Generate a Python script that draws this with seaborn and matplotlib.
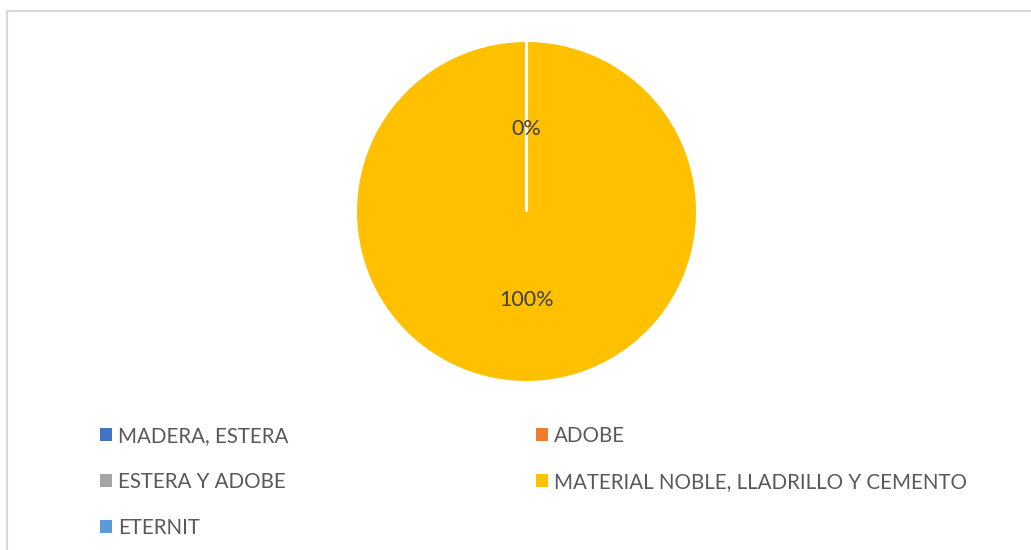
import matplotlib
matplotlib.use("Agg")
import matplotlib.pyplot as plt
from matplotlib.patches import Rectangle, Patch
import seaborn as sns

categories = ["MADERA, ESTERA", "ADOBE", "ESTERA Y ADOBE",
              "MATERIAL NOBLE, LLADRILLO Y CEMENTO", "ETERNIT"]
shares = [0, 0, 0, 100, 0]
colors = ["#4472C4", "#ED7D31", "#A5A5A5", "#FFC000", "#5B9BD5"]

sns.set_theme(style="white")
plt.rcParams["font.family"] = ["Lato", "DejaVu Sans"]

W, H = 1031, 550
fig = plt.figure(figsize=(W / 100, H / 100), dpi=100)

# chart area frame (left and top edges visible)
fig.add_artist(Rectangle((7 / W, -0.1), 1.2, (H - 11) / H + 0.1,
                         transform=fig.transFigure, fill=False,
                         edgecolor="#D9D9D9", linewidth=1.5))

cx, cy, r = 526.5, 211.5, 171
ax = fig.add_axes([(cx - r) / W, (H - cy - r) / H, 2 * r / W, 2 * r / H])
wedges, _, pct_texts = ax.pie(
    shares, colors=colors, startangle=90, counterclock=False,
    autopct=lambda p: f"{p:.0f}%", pctdistance=0.5,
    wedgeprops=dict(edgecolor="white", linewidth=2.2),
    textprops=dict(color="#404040", fontsize=15.5),
)
# zero-share labels all land on the same spot; keep one
seen = set()
for t in pct_texts:
    x, y = t.get_position()
    key = (round(x, 3), round(y, 3))
    if key in seen:
        t.set_visible(False)
    seen.add(key)
    t.set_position((x, y - 0.02))
ax.set_xlim(-1, 1)
ax.set_ylim(-1, 1)
ax.set_aspect("auto")
ax.axis("off")

# legend filled row by row, two columns
order = [0, 2, 4, 1, 3]
handles = [Patch(facecolor=colors[i], edgecolor="none") for i in order]
labels = [categories[i] for i in order]
leg = fig.legend(handles, labels, ncol=2, loc="upper left",
                 bbox_to_anchor=(100 / W, 1 - 426 / H), frameon=False,
                 fontsize=14.8, handlelength=0.6, handleheight=0.6,
                 handletextpad=0.28, columnspacing=12.03, labelspacing=1.27,
                 borderaxespad=0, borderpad=0)
for t in leg.get_texts():
    t.set_color("#595959")

fig.savefig("out.png", dpi=100, facecolor="white")
